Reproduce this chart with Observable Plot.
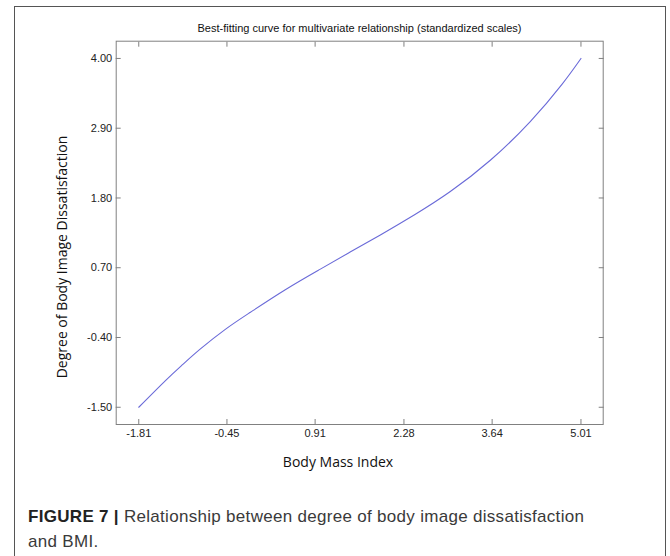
<!DOCTYPE html>
<html>
<head>
<meta charset="utf-8">
<script src="https://cdn.jsdelivr.net/npm/d3@7"></script>
<script src="https://cdn.jsdelivr.net/npm/@observablehq/plot@0.6"></script>
<style>
  html, body { margin: 0; padding: 0; background: #fff; }
  body { width: 670px; height: 556px; position: relative; overflow: hidden; }
  #frame { position: absolute; left: 14px; top: 6px; width: 652px; height: 600px; border: 1px solid #555; box-sizing: border-box; }
  #chart { position: absolute; left: 0; top: 0; }
  .lbl { position: absolute; white-space: nowrap; color: #222; }
  #title { font: 11px "Liberation Sans", Arial, sans-serif; left: 359.5px; top: 22px; transform: translateX(-50%); color: #111; }
  #xlabel { font: 14px "Open Sans", sans-serif; left: 338px; top: 452px; transform: translateX(-50%); color: #111; }
  #ylabel { font: 14px "Open Sans", sans-serif; left: 61px; top: 256.5px; transform: translate(-50%, -50%) rotate(-90deg); color: #111; }
  #caption { font: 17px "Liberation Sans", Arial, sans-serif; letter-spacing: 0.3px; left: 28px; top: 504px; line-height: 25px; color: #3a3a3a; white-space: nowrap; }
  #caption b { color: #222; }
</style>
</head>
<body>
<div id="frame"></div>
<div id="chart"></div>
<div class="lbl" id="title">Best-fitting curve for multivariate relationship (standardized scales)</div>
<div class="lbl" id="xlabel">Body Mass Index</div>
<div class="lbl" id="ylabel">Degree of Body Image Dissatisfaction</div>
<div class="lbl" id="caption"><b>FIGURE 7 |</b> Relationship between degree of body image dissatisfaction<br>and BMI.</div>
<script>
// Values (standardized scales)
const bmi = [-1.81, -1.398, -1.13, -0.859, -0.47, -0.088, 0.45, 0.991, 1.45, 1.916, 2.45, 2.995, 3.612, 4.228, 4.717, 5.01];
const dissatisfaction = [-1.50, -1.079, -0.824, -0.580, -0.268, -0.002, 0.353, 0.678, 0.947, 1.217, 1.539, 1.901, 2.395, 3.005, 3.592, 4.00];
const xTicks = [-1.81, -0.45, 0.91, 2.28, 3.64, 5.01];
const yTicks = [-1.50, -0.40, 0.70, 1.80, 2.90, 4.00];

const data = bmi.map((x, i) => ({x, y: dissatisfaction[i]}));
const axisColor = "#808080";
const fmt = d => d.toFixed(2);

const chart = Plot.plot({
  width: 670,
  height: 556,
  marginLeft: 115.7,
  marginTop: 40.7,
  marginRight: 67.3,
  marginBottom: 132,
  style: {background: "transparent", fontFamily: "'Liberation Sans', Arial, sans-serif", fontSize: "11px", color: "#222"},
  x: {domain: [-2.158, 5.353]},
  y: {domain: [-1.772, 4.272]},
  marks: [
    Plot.frame({stroke: axisColor, strokeOpacity: 1}),
    Plot.axisX({anchor: "bottom", ticks: xTicks, tickFormat: fmt, tickSize: 0, tickPadding: 5, label: null, fill: "#222"}),
    Plot.axisX({anchor: "bottom", ticks: xTicks, tickFormat: () => "", tickSize: -5, label: null, stroke: axisColor}),
    Plot.axisX({anchor: "top", ticks: xTicks, tickFormat: () => "", tickSize: -5, label: null, stroke: axisColor}),
    Plot.axisY({anchor: "left", ticks: yTicks, tickFormat: fmt, tickSize: 0, tickPadding: 4, label: null, fill: "#222"}),
    Plot.axisY({anchor: "left", ticks: yTicks, tickFormat: () => "", tickSize: -5, label: null, stroke: axisColor}),
    Plot.axisY({anchor: "right", ticks: yTicks, tickFormat: () => "", tickSize: -5, label: null, stroke: axisColor}),
    Plot.line(data, {x: "x", y: "y", stroke: "#6a6ad8", strokeWidth: 1.1, curve: "natural"})
  ]
});
document.getElementById("chart").appendChild(chart);
</script>
</body>
</html>
